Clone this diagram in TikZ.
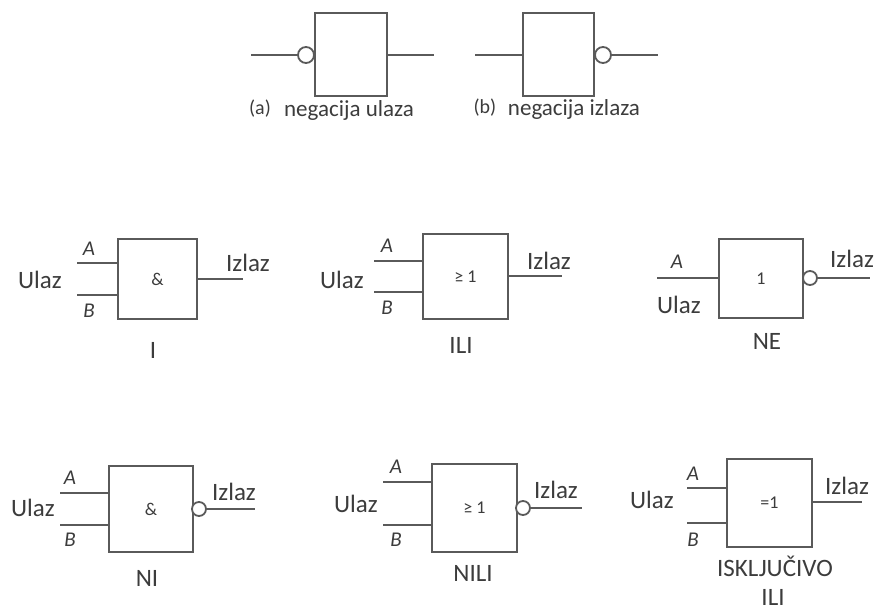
\documentclass[tikz,border=0pt]{standalone}
\usepackage{fontspec}
\setmainfont{Carlito}
\definecolor{ln}{HTML}{5A5A5A}
\definecolor{tx}{HTML}{3C3C3C}
\tikzset{
  gate/.style={draw=ln,line width=1.8pt,fill=white,inner sep=0pt,outer sep=0pt,text=tx,font=\fontsize{18}{18}\selectfont},
  wire/.style={draw=ln,line width=1.8pt},
  bubble/.style={circle,draw=ln,line width=1.8pt,fill=white,inner sep=0pt,outer sep=0pt,minimum size=#1},
  bigtxt/.style={text=tx,inner sep=0pt,font=\fontsize{25}{25}\selectfont},
  pintxt/.style={text=tx,inner sep=0pt,font=\fontsize{21}{21}\selectfont\itshape},
  lbltxt/.style={text=tx,inner sep=0pt,font=\fontsize{25}{25}\selectfont},
  negtxt/.style={text=tx,inner sep=0pt,font=\fontsize{23}{23}\selectfont},
  smalltxt/.style={text=tx,inner sep=0pt,font=\fontsize{20}{20}\selectfont},
}
\begin{document}
\begin{tikzpicture}[x=1pt,y=-1pt]
\useasboundingbox (0,0) rectangle (876,609);
% (a)
\node[gate,minimum width=72pt,minimum height=83pt] (ga) at (351,54.5) {};
\node[bubble=16pt] (ba) at (306,55) {};
\coordinate (ain) at (251,55); \coordinate (aout) at (434,55);
\draw[wire] (ain) -- (ba);
\draw[wire] (ga.east |- aout) -- (aout);
\node[smalltxt] (la1) at (260,109) {(a)};
\node[negtxt] (la2) at (349,110) {negacija ulaza};
% (b)
\node[gate,minimum width=71pt,minimum height=83pt] (gb) at (558.5,54.5) {};
\node[bubble=16pt] (bb) at (603,55) {};
\coordinate (bin) at (475,55); \coordinate (bout) at (658,55);
\draw[wire] (bin) -- (gb.west |- bin);
\draw[wire] (bb) -- (bout);
\node[smalltxt] (lb1) at (485,108) {(b)};
\node[negtxt] (lb2) at (574,109) {negacija izlaza};
% I
\node[gate,minimum width=79pt,minimum height=80pt] (g1) at (157.5,279) {\&};
\coordinate (g1a) at (77,263); \coordinate (g1b) at (77,295); \coordinate (g1o) at (243,279);
\draw[wire] (g1a) -- (g1.west |- g1a);
\draw[wire] (g1b) -- (g1.west |- g1b);
\draw[wire] (g1.east |- g1o) -- (g1o);
\node[bigtxt] (u1) at (40,280) {Ulaz};
\node[pintxt] (a1) at (89,249) {A};
\node[pintxt] (b1) at (89,311) {B};
\node[bigtxt] (i1) at (248,263) {Izlaz};
\node[lbltxt] (n1) at (153,350) {I};
% ILI
\node[gate,minimum width=85pt,minimum height=85pt] (g2) at (465.5,276.5) {≥ 1};
\coordinate (g2a) at (374,261); \coordinate (g2b) at (374,292); \coordinate (g2o) at (562,276);
\draw[wire] (g2a) -- (g2.west |- g2a);
\draw[wire] (g2b) -- (g2.west |- g2b);
\draw[wire] (g2.east |- g2o) -- (g2o);
\node[bigtxt] (u2) at (342,280) {Ulaz};
\node[pintxt] (a2) at (387,246) {A};
\node[pintxt] (b2) at (387,308) {B};
\node[bigtxt] (i2) at (549,261) {Izlaz};
\node[lbltxt] (n2) at (461,345) {ILI};
% NE
\node[gate,minimum width=84pt,minimum height=79pt] (g3) at (761,278.5) {1};
\node[bubble=14pt] (b3) at (810,278) {};
\coordinate (g3a) at (657,278); \coordinate (g3o) at (870,278);
\draw[wire] (g3a) -- (g3.west |- g3a);
\draw[wire] (b3) -- (g3o);
\node[bigtxt] (u3) at (679,305) {Ulaz};
\node[pintxt] (a3) at (677,262) {A};
\node[bigtxt] (i3) at (852,259) {Izlaz};
\node[lbltxt] (n3) at (767,341) {NE};
% NI
\node[gate,minimum width=84pt,minimum height=86pt] (g4) at (151,509) {\&};
\node[bubble=14pt] (b4) at (199,509) {};
\coordinate (g4a) at (60,493); \coordinate (g4b) at (60,525); \coordinate (g4o) at (255,509);
\draw[wire] (g4a) -- (g4.west |- g4a);
\draw[wire] (g4b) -- (g4.west |- g4b);
\draw[wire] (b4) -- (g4o);
\node[bigtxt] (u4) at (33,508) {Ulaz};
\node[pintxt] (a4) at (70,478) {A};
\node[pintxt] (b4l) at (70,540) {B};
\node[bigtxt] (i4) at (234,492) {Izlaz};
\node[lbltxt] (n4) at (147,578) {NI};
% NILI
\node[gate,minimum width=85pt,minimum height=88pt] (g5) at (474.5,508) {≥ 1};
\node[bubble=14pt] (b5) at (523,508) {};
\coordinate (g5a) at (383,482); \coordinate (g5b) at (383,525); \coordinate (g5o) at (582,508);
\draw[wire] (g5a) -- (g5.west |- g5a);
\draw[wire] (g5b) -- (g5.west |- g5b);
\draw[wire] (b5) -- (g5o);
\node[bigtxt] (u5) at (356,504) {Ulaz};
\node[pintxt] (a5) at (396,467) {A};
\node[pintxt] (b5l) at (396,540) {B};
\node[bigtxt] (i5) at (556,490) {Izlaz};
\node[lbltxt] (n5) at (473,573) {NILI};
% XOR
\node[gate,minimum width=85pt,minimum height=88pt] (g6) at (769.5,503) {=1};
\coordinate (g6a) at (687,488); \coordinate (g6b) at (687,523); \coordinate (g6o) at (862,502);
\draw[wire] (g6a) -- (g6.west |- g6a);
\draw[wire] (g6b) -- (g6.west |- g6b);
\draw[wire] (g6.east |- g6o) -- (g6o);
\node[bigtxt] (u6) at (652,500) {Ulaz};
\node[pintxt] (a6) at (693,474) {A};
\node[pintxt] (b6) at (693,540) {B};
\node[bigtxt] (i6) at (847,486) {Izlaz};
\node[lbltxt] (n6a) at (775,566) {ISKLJUČIVO};
\node[lbltxt] (n6b) at (773,597) {ILI};
\end{tikzpicture}
\end{document}
